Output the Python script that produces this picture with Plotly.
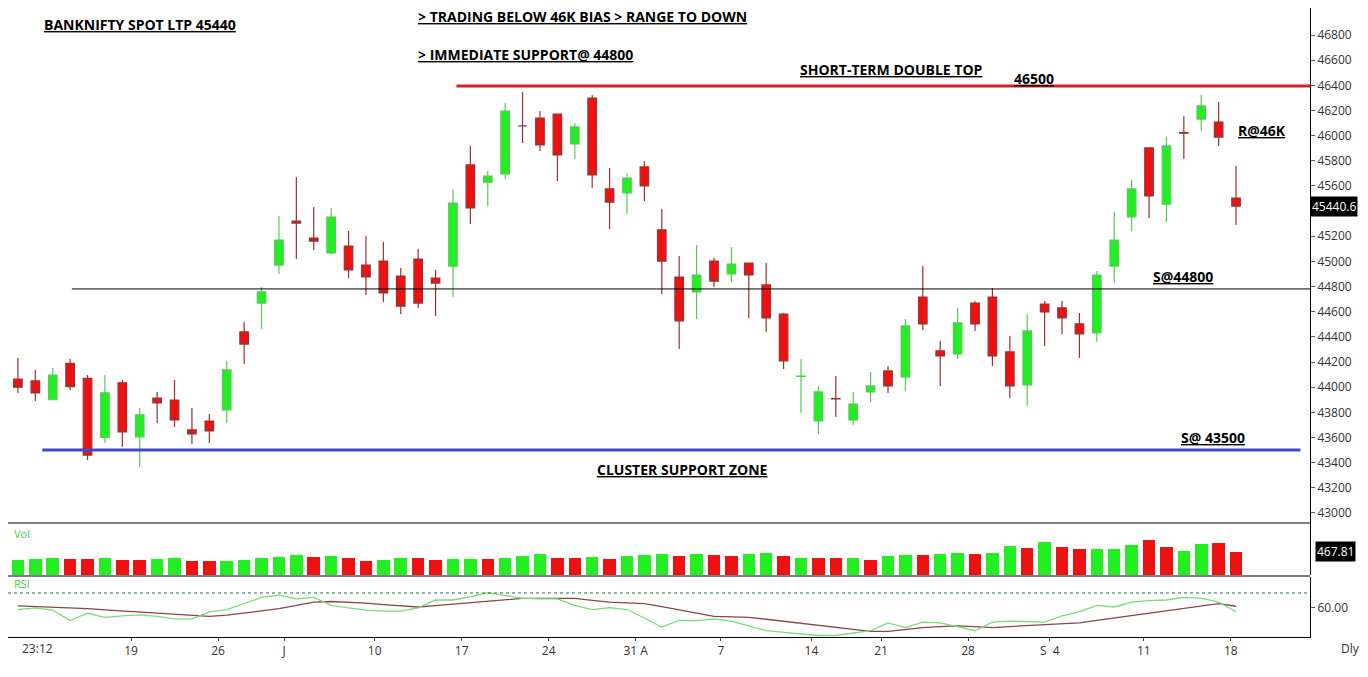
import plotly.graph_objects as go

opens = [44065,44050,43900,44190,44070,43600,44035,43605,43914,43898,43660,43731,43819,44439,44669,44971,45320,45186,45067,45122,
         44971,45003,44884,45019,44868,44963,45767,45631,45695,46077,46140,46172,45934,46299,45576,45544,45751,45250,44876,44757,
         45003,44900,44987,44813,44582,44085,43731,43910,43739,43962,44129,44081,44717,44288,44264,44669,44717,44280,44018,44661,
         44630,44503,44431,44963,45353,45902,45456,46025,46132,46108,45504]
highs = [44232,44137,44153,44224,44097,44097,44057,43835,43962,44057,43835,43787,44208,44518,44797,45361,45671,45433,45425,45242,
         45202,45154,44948,45098,44932,45576,45918,45719,46259,46347,46196,46172,46100,46323,45743,45703,45798,45417,45043,45130,
         45027,45114,44987,44987,44590,44224,44010,44089,43962,44121,44169,44542,44963,44367,44630,44685,44789,44407,44582,44685,
         44685,44590,44924,45393,45648,45902,45989,46156,46323,46267,45759]
lows = [43954,43890,43900,43978,43420,43556,43525,43366,43715,43684,43548,43556,43715,44184,44463,44900,45019,45090,45059,44868,
        44733,44677,44582,44630,44566,44717,45297,45440,45655,45941,45878,45639,45814,45584,45258,45377,45480,44741,44304,44542,
        44797,44836,44550,44439,44145,43795,43628,43763,43700,43882,43954,43970,44455,44010,44224,44447,44169,43914,43851,44327,
        44423,44232,44359,44828,45242,45345,45313,45814,46037,45918,45289]
closes = [44000,43955,44097,44005,43460,43955,43645,43780,43874,43739,43628,43652,44137,44343,44757,45170,45305,45162,45353,44932,
          44876,44749,44645,44669,44828,45464,45425,45679,46196,46077,45926,45846,46069,45687,45472,45663,45600,45003,44526,44892,
          44844,44979,44892,44550,44208,44089,43962,43906,43866,44010,44010,44487,44503,44248,44511,44503,44248,44010,44447,44598,
          44550,44423,44892,45170,45576,45520,45918,46019,46236,45989,45440]

volumes = [310,330,345,325,325,345,295,295,325,340,275,275,275,300,345,365,405,375,390,345,
           275,295,340,340,300,325,325,325,345,390,430,340,340,360,325,380,405,425,380,425,
           405,380,425,445,380,355,355,340,340,295,390,405,410,430,445,425,445,585,555,670,
           575,520,520,535,605,720,560,490,625,650,467.81]
vol_colors = list("GGGRRGRRGGRRGGGGGRGRRGGRRGGRGGGRRGRGGGRGRRGGRGRRGRGGRGGRGGRGRRGGGRRGGR")
vol_colors += ["R"] * (71 - len(vol_colors))

rsi_fast = [58.9,60.0,58.5,51.5,56.4,53.6,54.7,55.3,54.3,52.6,52.6,57.4,58.9,62.8,67.0,68.5,66.0,67.0,61.7,60.0,
            58.5,57.9,57.9,60.0,65.3,65.3,67.4,70.2,68.1,66.4,66.0,66.0,61.7,58.9,60.2,58.9,53.2,47.2,51.7,51.5,
            52.6,51.1,47.9,44.7,43.6,42.3,41.5,41.5,43.2,44.7,50.0,46.8,50.4,50.0,47.4,44.7,50.4,51.1,50.9,50.4,
            54.7,57.4,61.7,60.6,63.8,64.9,65.3,67.0,66.5,63.8,57.4]
rsi_slow = [61.3,60.9,60.5,60.0,59.5,58.7,57.9,57.2,56.5,55.8,55.0,54.3,55.2,56.4,58.0,59.5,61.8,63.8,64.3,63.9,
            63.2,62.2,61.4,60.6,61.5,62.4,63.2,64.1,65.0,66.4,66.4,66.4,66.4,65.1,63.8,63.3,62.8,60.8,58.5,56.4,
            54.3,54.0,53.6,52.4,51.1,49.6,48.2,46.8,45.5,44.3,44.3,45.5,46.8,47.4,47.9,47.4,46.8,47.5,48.2,48.9,
            49.5,50.0,51.6,53.2,54.8,56.4,58.0,59.6,61.2,62.8,61.1]

date_labels = ["23:12","19","26","J","10","17","24","31 A","7","14","21","28","S  4","11","18"]
date_pos = [0,6.5,11.5,15.3,20.5,25.5,30.5,35.5,40.4,45.6,49.6,54.6,59.3,64.7,69.7]
price_ticks = [v for v in range(43000, 46801, 200) if v != 45400]

n = len(closes)
idx = list(range(n))
GREEN = "#22ee22"
RED = "#ee1111"

# page offset: plot area spans screen x 8..1310, y 8..637
def px(x):
    return (x - 8) / 1302
def py(y):
    return (637 - y) / 629

fig = go.Figure()
fig.add_trace(go.Candlestick(x=idx, open=opens, high=highs, low=lows, close=closes,
    increasing=dict(line=dict(color="#55cc55", width=1.2), fillcolor=GREEN),
    decreasing=dict(line=dict(color="#a03030", width=1.2), fillcolor=RED),
    whiskerwidth=0, showlegend=False, xaxis="x", yaxis="y"))
fig.add_trace(go.Bar(x=idx, y=volumes, marker=dict(color=[GREEN if c == "G" else RED for c in vol_colors], line=dict(width=0)),
    width=0.72, showlegend=False, xaxis="x", yaxis="y2"))
fig.add_trace(go.Scatter(x=idx, y=rsi_slow, mode="lines", line=dict(color="#8b4545", width=1.3), showlegend=False, xaxis="x", yaxis="y3"))
fig.add_trace(go.Scatter(x=idx, y=rsi_fast, mode="lines", line=dict(color="#77dd77", width=1.3), showlegend=False, xaxis="x", yaxis="y3"))

shapes = [
    dict(type="line", xref="x", yref="y", x0=25.2, x1=74.25, y0=46395, y1=46395, line=dict(color="#d62027", width=3)),
    dict(type="line", xref="x", yref="y", x0=3.1, x1=74.25, y0=44781, y1=44781, line=dict(color="black", width=1)),
    dict(type="line", xref="x", yref="y", x0=1.4, x1=73.7, y0=43500, y1=43500, line=dict(color="#3f48cc", width=3)),
    dict(type="line", xref="paper", yref="paper", x0=0, x1=1, y0=py(523), y1=py(523), line=dict(color="black", width=1)),
    dict(type="line", xref="paper", yref="paper", x0=0, x1=1, y0=py(576), y1=py(576), line=dict(color="black", width=1)),
    dict(type="line", xref="x", yref="y3", x0=-0.57, x1=74.25, y0=70, y1=70, line=dict(color="#2a6a4a", width=1, dash="dot")),
]

F = "Open Sans"
def ann(text, x, y, size=14):
    return dict(text=f"<b><u>{text}</u></b>", xref="paper", yref="paper", x=px(x), y=py(y),
                xanchor="left", yanchor="middle", showarrow=False, font=dict(family=F, size=size, color="black"))

annotations = [
    ann("BANKNIFTY SPOT LTP 45440", 42, 24),
    ann("&gt; TRADING BELOW 46K BIAS &gt; RANGE TO DOWN", 416, 16),
    ann("&gt; IMMEDIATE SUPPORT@ 44800", 416, 54),
    ann("SHORT-TERM DOUBLE TOP", 798, 70),
    ann("46500", 1012, 78),
    ann("R@46K", 1236, 131),
    ann("S@44800", 1151, 276),
    ann("S@ 43500", 1179, 437),
    ann("CLUSTER SUPPORT ZONE", 595, 469),
    dict(text="Vol", xref="paper", yref="paper", x=px(12), y=py(533), xanchor="left", yanchor="middle",
         showarrow=False, font=dict(family=F, size=11, color="#44cc44")),
    dict(text="RSI", xref="paper", yref="paper", x=px(12), y=py(583), xanchor="left", yanchor="middle",
         showarrow=False, font=dict(family=F, size=11, color="#44cc44")),
    dict(text="45440.6", xref="paper", yref="y", x=1, y=closes[-1], xanchor="left", yanchor="middle",
         showarrow=False, bgcolor="black", font=dict(family=F, size=12, color="white")),
    dict(text="467.81", xref="paper", yref="y2", x=1.004, y=volumes[-1], xanchor="left", yanchor="middle",
         showarrow=False, bgcolor="black", font=dict(family=F, size=12, color="white")),
    dict(text="Dly", xref="paper", yref="paper", x=px(1350), y=py(648), xanchor="center", yanchor="middle",
         showarrow=False, font=dict(family=F, size=12, color="#333")),
    dict(text=date_labels[0], xref="paper", yref="paper", x=px(20), y=py(648), xanchor="left", yanchor="middle",
         showarrow=False, font=dict(family=F, size=12, color="#333")),
]

axis_common = dict(showgrid=False, zeroline=False, side="right", ticklen=4, tickcolor="#555",
                   showline=True, linecolor="black", tickfont=dict(family=F, size=12, color="#333"))

fig.update_layout(
    width=1368, height=677, paper_bgcolor="white", plot_bgcolor="white",
    margin=dict(l=0, r=66, t=0, b=48),
    shapes=shapes, annotations=annotations, bargap=0,
    xaxis=dict(domain=[0, 1], range=[-0.57, 74.25], anchor="y3", showgrid=False, zeroline=False,
               rangeslider=dict(visible=False), tickmode="array", tickvals=date_pos[1:], ticktext=date_labels[1:],
               ticks="outside", ticklen=3, showline=True, linecolor="black",
               tickfont=dict(family=F, size=12, color="#333")),
    yaxis=dict(domain=[py(523), 1], range=[42920, 47015], tickmode="array", tickvals=price_ticks,
               tickformat="d", ticks="outside", anchor="x", **axis_common),
    yaxis2=dict(domain=[py(575), py(523)], range=[0, 1057], showticklabels=False, anchor="x", **axis_common),
    yaxis3=dict(domain=[0, py(577)], range=[40.5, 80.7], tickmode="array", tickvals=[60], ticktext=["60.00"],
                ticks="outside", anchor="x", **axis_common),
)
fig.write_html("out.html")
